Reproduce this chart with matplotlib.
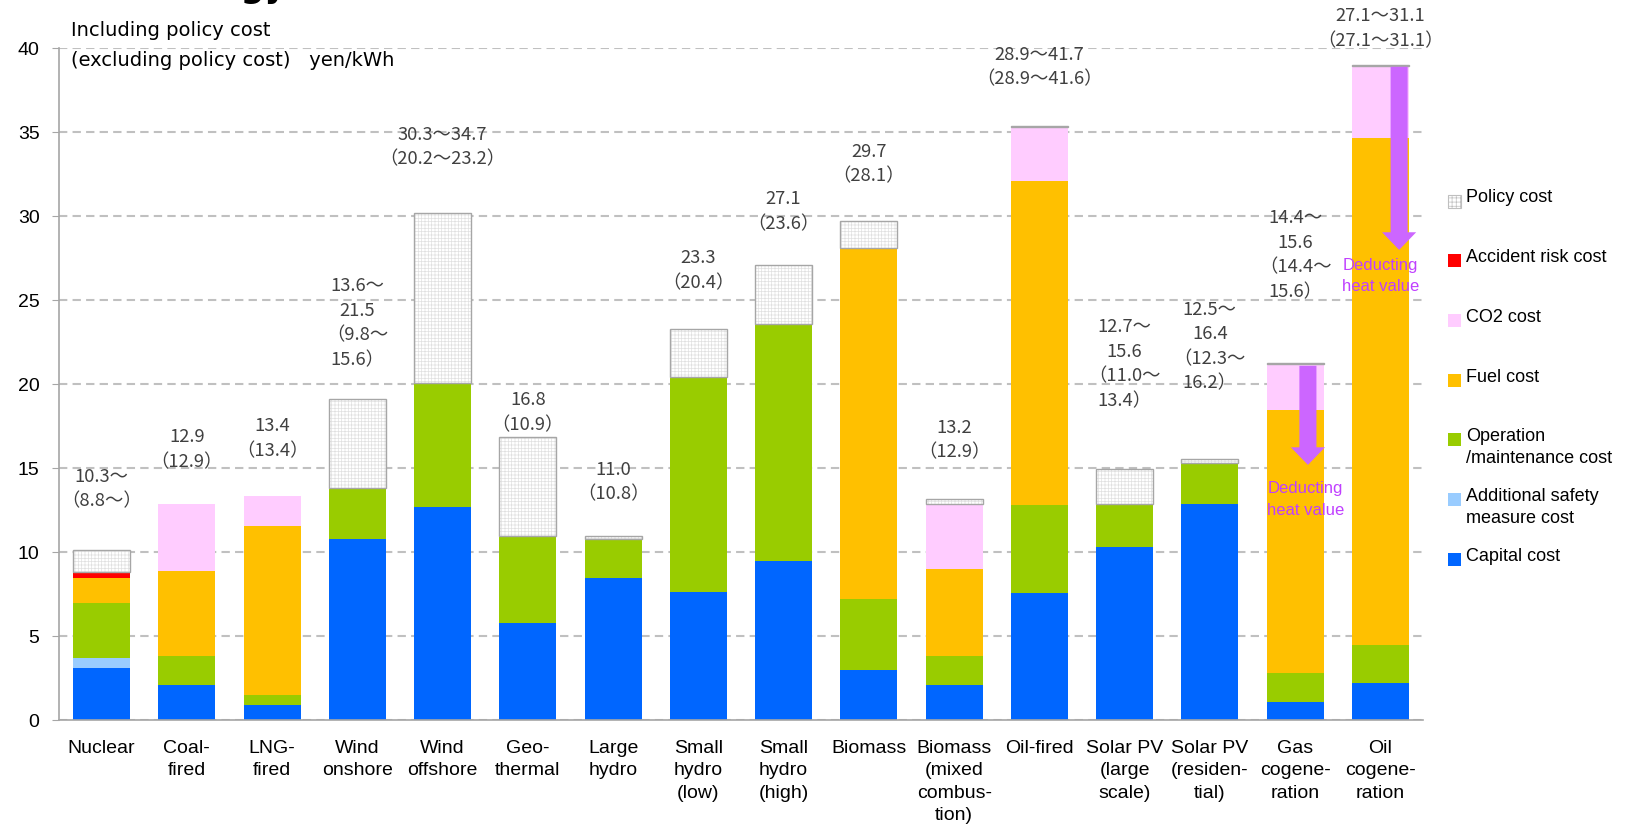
import numpy as np
import matplotlib
matplotlib.use("Agg")
import matplotlib.pyplot as plt
from matplotlib.patches import Rectangle

# categories (x axis)
categories = ["Nuclear", "Coal-\nfired", "LNG-\nfired", "Wind\nonshore", "Wind\noffshore",
              "Geo-\nthermal", "Large\nhydro", "Small\nhydro\n(low)", "Small\nhydro\n(high)",
              "Biomass", "Biomass\n(mixed\ncombus-\ntion)", "Oil-fired", "Solar PV\n(large\nscale)",
              "Solar PV\n(residen-\ntial)", "Gas\ncogene-\nration", "Oil\ncogene-\nration"]

# cost components, yen/kWh (stacked bottom -> top)
capital  = [3.1, 2.1, 0.9, 10.8, 12.7, 5.8, 8.45, 7.65, 9.5, 3.0, 2.1, 7.6, 10.3, 12.85, 1.1, 2.2]
safety   = [0.6, 0, 0, 0, 0, 0, 0, 0, 0, 0, 0, 0, 0, 0, 0, 0]
om       = [3.3, 1.7, 0.6, 3.0, 7.4, 5.15, 2.35, 12.8, 14.1, 4.2, 1.7, 5.2, 2.6, 2.45, 1.7, 2.3]
fuel     = [1.5, 5.1, 10.05, 0, 0, 0, 0, 0, 0, 20.9, 5.2, 19.3, 0, 0, 15.7, 30.15]
accident = [0.35, 0, 0, 0, 0, 0, 0, 0, 0, 0, 0, 0, 0, 0, 0, 0]
co2      = [0, 4.0, 1.8, 0, 0, 0, 0, 0, 0, 0, 3.85, 3.2, 0, 0, 2.7, 4.3]
policy   = [1.3, 0, 0, 5.3, 10.1, 5.9, 0.2, 2.85, 3.5, 1.65, 0.35, 0.05, 2.05, 0.25, 0.05, 0.05]

# value labels above bars
value_labels = ["10.3〜\n（8.8〜）", "12.9\n（12.9）", "13.4\n（13.4）", "13.6〜\n21.5\n（9.8〜\n15.6）",
                "30.3〜34.7\n（20.2〜23.2）", "16.8\n（10.9）", "11.0\n（10.8）", "23.3\n（20.4）",
                "27.1\n（23.6）", "29.7\n（28.1）", "13.2\n（12.9）", "28.9〜41.7\n（28.9〜41.6）",
                "12.7〜\n15.6\n（11.0〜\n13.4）", "12.5〜\n16.4\n（12.3〜\n16.2）",
                "14.4〜\n15.6\n（14.4〜\n15.6）", "27.1〜31.1\n（27.1〜31.1）"]
label_top = [14.5, 16.85, 17.5, 25.85, 34.85, 19.05, 14.9, 27.5, 31.0, 33.85, 17.4, 39.6,
             23.4, 24.45, 29.9, 41.9]

# "deducting heat value" arrows (cogeneration)
arrow_x = [14.15, 15.22]
arrow_top = [21.1, 38.9]
arrow_tip = [15.2, 28.0]
arrow_text_y = [13.8, 27.1]
arrow_text_x = [14.12, 15.0]

legend_labels = ["Policy cost", "Accident risk cost", "CO2 cost", "Fuel cost",
                 "Operation\n/maintenance cost", "Additional safety\nmeasure cost", "Capital cost"]

C_CAP, C_SAFE, C_OM, C_FUEL = "#0066FF", "#99CCFF", "#99CC00", "#FFC000"
C_ACC, C_CO2, C_ARROW, C_ATXT = "#FF0000", "#FFCCFF", "#CC66FF", "#C040FF"
legend_colors = [None, C_ACC, C_CO2, C_FUEL, C_OM, C_SAFE, C_CAP]

plt.rcParams["hatch.linewidth"] = 0.5
LAT = ["Liberation Sans", "DejaVu Sans"]
CJK = ["Noto Sans CJK JP", "DejaVu Sans"]

W, H = 1626, 840
fig = plt.figure(figsize=(W / 100, H / 100), dpi=100)
ax = fig.add_axes([59 / W, 119.7 / H, 1364 / W, 672 / H])

x = np.arange(len(categories))
bw = 0.67
bottom = np.zeros(len(categories))
for vals, col in [(capital, C_CAP), (safety, C_SAFE), (om, C_OM), (fuel, C_FUEL),
                  (accident, C_ACC), (co2, C_CO2)]:
    v = np.array(vals)
    ax.bar(x, v, bw, bottom=bottom, color=col, edgecolor="none", zorder=2)
    bottom += v

pol = np.array(policy)
m = pol > 0
ax.bar(x[m], pol[m], bw, bottom=bottom[m], color="white", edgecolor="#e0e0e0",
       hatch="+++++", linewidth=0, zorder=2)
ax.bar(x[m], pol[m], bw, bottom=bottom[m], fill=False, edgecolor="#a6a6a6",
       linewidth=1.0, zorder=3)

# value labels
for i, lbl in enumerate(value_labels):
    for j, line in enumerate(lbl.split("\n")):
        ax.text(x[i], label_top[i] - j * 1.47, line, ha="center", va="center",
                fontsize=13.2, color="#404040", family=CJK, zorder=5)

# arrows
for ax_x, top, tip, tx, ty in zip(arrow_x, arrow_top, arrow_tip, arrow_text_x, arrow_text_y):
    ax.arrow(ax_x, top, 0, tip - top, width=0.2, head_width=0.4, head_length=1.05,
             length_includes_head=True, color=C_ARROW, linewidth=0, zorder=4)
    ax.text(tx, ty, "Deducting", ha="center", va="center", fontsize=12,
            color=C_ATXT, family=LAT, zorder=5)
    ax.text(tx, ty - 1.3, "heat value", ha="center", va="center", fontsize=12,
            color=C_ATXT, family=LAT, zorder=5)

ax.set_xlim(-0.5, len(categories) - 0.5)
ax.set_ylim(0, 40)
ax.set_yticks(np.arange(0, 41, 5))
ax.set_xticks(x)
ax.set_xticklabels(categories, fontsize=14, family=LAT, linespacing=1.42)
for t in ax.get_yticklabels():
    t.set_fontsize(14)
    t.set_family(LAT)
ax.tick_params(axis="x", length=0, pad=14)
ax.tick_params(axis="y", length=5, color="#a6a6a6", pad=9)
ax.yaxis.grid(True, color="#c0c0c0", linestyle=(0, (4, 2.5)), linewidth=1.5)
ax.set_axisbelow(True)
for s in ["top", "right"]:
    ax.spines[s].set_visible(False)
for s in ["left", "bottom"]:
    ax.spines[s].set_color("#a6a6a6")
    ax.spines[s].set_linewidth(1.2)

# header texts
fig.text(71 / W, 1 - 31 / H, "Including policy cost", fontsize=14, va="center",
         family=["DejaVu Sans"])
fig.text(71 / W, 1 - 60 / H, "(excluding policy cost)   yen/kWh", fontsize=14,
         va="center", family=["DejaVu Sans"])
# title, cut off at the top edge as in the source picture
fig.text(287 / W, 1.004, "Energy", ha="right", va="baseline", fontsize=24,
         weight="bold", family=["DejaVu Sans"])

# legend (drawn by hand, rows evenly spaced)
for k, (lab, col) in enumerate(zip(legend_labels, legend_colors)):
    yc = 201 + 59.7 * k
    if col is None:
        fig.add_artist(Rectangle((1448 / W, 1 - (yc + 6.5) / H), 13 / W, 13 / H,
                                 facecolor="white", edgecolor="#bfbfbf", hatch="++++",
                                 linewidth=0.8, transform=fig.transFigure))
    else:
        fig.add_artist(Rectangle((1448 / W, 1 - (yc + 6.5) / H), 13 / W, 13 / H,
                                 facecolor=col, edgecolor="none", transform=fig.transFigure))
    fig.text(1466 / W, 1 - (yc - 11.5) / H, lab, fontsize=13, va="top", ha="left",
             family=LAT, linespacing=1.35)

fig.savefig("out.png", dpi=100)
